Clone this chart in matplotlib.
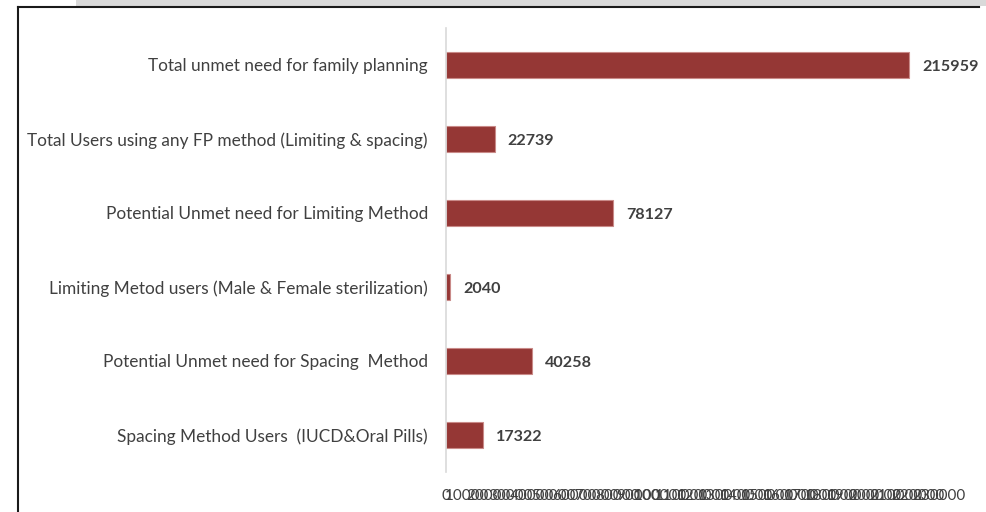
import matplotlib.pyplot as plt
from matplotlib.lines import Line2D
from matplotlib.patches import Rectangle
import numpy as np

categories = [
    'Total unmet need for family planning',
    'Total Users using any FP method (Limiting & spacing)',
    'Potential Unmet need for Limiting Method',
    'Limiting Metod users (Male & Female sterilization)',
    'Potential Unmet need for Spacing  Method',
    'Spacing Method Users  (IUCD&Oral Pills)',
]
values = [215959, 22739, 78127, 2040, 40258, 17322]
x_ticks = list(range(0, 230001, 10000))

plt.rcParams['font.family'] = ['Lato', 'DejaVu Sans']

fig = plt.figure(figsize=(9.86, 5.12), dpi=100)
ax = fig.add_axes([446 / 986, 40 / 512, (939 - 446) / 986, 444 / 512])

y = np.arange(len(categories))[::-1]
ax.barh(y, values, height=0.35, color='#953735', edgecolor='#c98a88', linewidth=0.8)

for yi, v in zip(y, values):
    ax.annotate(str(v), (v, yi), xytext=(13, -2), textcoords='offset pixels',
                va='center', ha='left', fontsize=11.6, fontweight='bold', color='#404040')

ax.set_xlim(0, 230000)
ax.set_ylim(-0.5, len(categories) - 0.5)
ax.set_yticks(y)
ax.set_yticklabels(categories, fontsize=12.4, color='#404040')
ax.set_xticks(x_ticks)
ax.set_xticklabels([str(t) for t in x_ticks], fontsize=11, color='#404040')
ax.tick_params(axis='y', length=0, pad=13)
ax.tick_params(axis='x', length=0, pad=12)

for s in ['top', 'right', 'bottom']:
    ax.spines[s].set_visible(False)
ax.spines['left'].set_color('#d9d9d9')
ax.spines['left'].set_linewidth(1.2)

# frame bits around the chart
fig.add_artist(Rectangle((76 / 986, 506 / 512), 1 - 76 / 986, 6 / 512,
                         transform=fig.transFigure, color='#d9d9d9', lw=0))
fig.add_artist(Line2D([17.5 / 986, 979 / 986], [505.5 / 512, 505.5 / 512],
                      transform=fig.transFigure, color='#1a1a1a', lw=1.5))
fig.add_artist(Line2D([17.5 / 986, 17.5 / 986], [0, 505.5 / 512],
                      transform=fig.transFigure, color='#1a1a1a', lw=1.5))

fig.savefig('out.png', dpi=100)
